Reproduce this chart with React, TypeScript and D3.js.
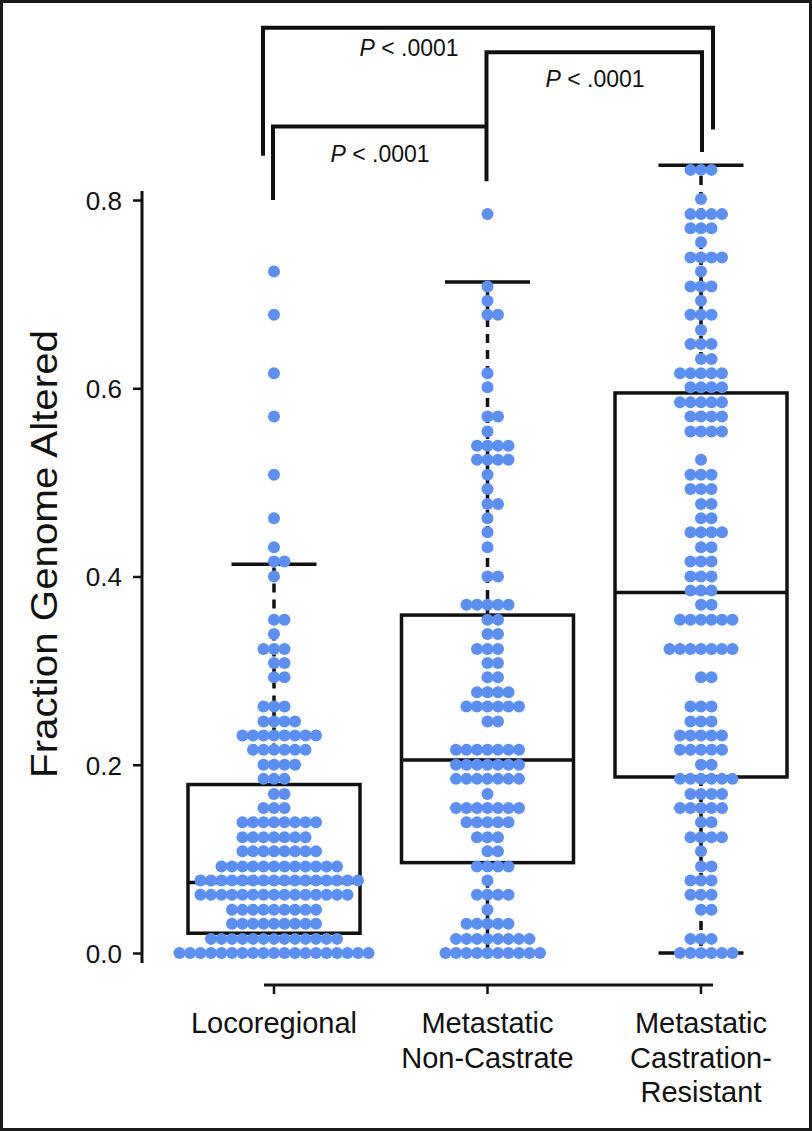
import React, { useRef, useEffect } from "react";
import * as d3 from "d3";

// categories on the x axis (label lines)
const categories = ["Locoregional", "Metastatic Non-Castrate", "Metastatic Castration-Resistant"];
const categoryLines = [["Locoregional"], ["Metastatic", "Non-Castrate"], ["Metastatic", "Castration-", "Resistant"]];

// swarm rows: value and number of samples at that value
const locoValues = [0.724, 0.678, 0.616, 0.57, 0.508, 0.462, 0.431, 0.416, 0.4, 0.354, 0.339, 0.323, 0.308, 0.293, 0.262, 0.246, 0.231, 0.216, 0.2, 0.185, 0.169, 0.154, 0.139, 0.123, 0.108, 0.092, 0.077, 0.062, 0.046, 0.031, 0.015, 0];
const locoCounts = [1, 1, 1, 1, 1, 1, 1, 2, 1, 2, 1, 3, 2, 2, 3, 4, 8, 6, 4, 3, 2, 3, 8, 7, 8, 12, 16, 15, 9, 9, 13, 19];

const nonCastValues = [0.785, 0.708, 0.693, 0.678, 0.616, 0.601, 0.57, 0.554, 0.539, 0.524, 0.508, 0.493, 0.477, 0.462, 0.447, 0.431, 0.4, 0.37, 0.354, 0.339, 0.323, 0.308, 0.293, 0.277, 0.262, 0.246, 0.216, 0.2, 0.185, 0.169, 0.154, 0.139, 0.123, 0.108, 0.092, 0.077, 0.062, 0.046, 0.031, 0.015, 0];
const nonCastCounts = [1, 1, 1, 2, 1, 1, 2, 1, 4, 4, 1, 1, 2, 1, 1, 1, 2, 5, 2, 2, 3, 2, 2, 4, 6, 2, 7, 7, 7, 1, 7, 5, 3, 2, 4, 1, 4, 1, 5, 8, 10];

const crpcValues = [0.832, 0.801, 0.785, 0.77, 0.755, 0.739, 0.724, 0.708, 0.693, 0.678, 0.662, 0.647, 0.631, 0.616, 0.601, 0.585, 0.57, 0.554, 0.524, 0.508, 0.493, 0.477, 0.462, 0.447, 0.431, 0.416, 0.4, 0.385, 0.37, 0.354, 0.323, 0.293, 0.262, 0.246, 0.231, 0.216, 0.2, 0.185, 0.169, 0.154, 0.139, 0.123, 0.108, 0.092, 0.077, 0.062, 0.046, 0.015, 0];
const crpcCounts = [3, 1, 4, 3, 1, 4, 1, 3, 1, 3, 1, 3, 2, 5, 4, 5, 4, 4, 1, 3, 3, 2, 2, 4, 2, 3, 3, 3, 2, 6, 7, 2, 3, 3, 5, 5, 2, 6, 4, 5, 2, 4, 1, 2, 3, 3, 2, 3, 6];

// box plot summaries
const boxQ1 = [0.021, 0.096, 0.187];
const boxMedian = [0.075, 0.205, 0.383];
const boxQ3 = [0.179, 0.359, 0.595];
const whiskerHigh = [0.413, 0.713, 0.837];
const whiskerLow = [0, 0, 0];

const yTicks = [0, 0.2, 0.4, 0.6, 0.8];

// significance brackets, heights in data units
const brackets = [
  { from: 0, to: 2, top: 0.983, leftEnd: 0.847, rightEnd: 0.875, dl: -11, dr: 12, tx: 409, ty: 0.953 },
  { from: 1, to: 2, top: 0.957, leftEnd: 0.82, rightEnd: 0.851, dl: -1, dr: 1, tx: 595, ty: 0.92 },
  { from: 0, to: 1, top: 0.878, leftEnd: 0.8, rightEnd: 0.878, dl: -1, dr: -1, tx: 380, ty: 0.84 },
];
const pLabel = ["P", " < .0001"];

const groups = [
  { values: locoValues, counts: locoCounts },
  { values: nonCastValues, counts: nonCastCounts },
  { values: crpcValues, counts: crpcCounts },
];

const W = 812;
const H = 1131;
const DOT = "#5b8ff2";
const INK = "#111";
const FONT = "'Liberation Sans', Arial, Helvetica, sans-serif";

const App = () => {
  const svgRef = useRef(null);

  useEffect(() => {
    const svg = d3.select(svgRef.current);
    svg.selectAll("*").remove();

    const x = d3.scalePoint().domain(categories).range([274, 701]);
    const y = d3.scaleLinear().domain([0, 0.8]).range([953, 200]);

    const boxW = 172;
    const capW = 85;
    const step = 10.5;
    const r = 6;

    // outer frame
    svg.append("rect")
      .attr("x", 1.5).attr("y", 1.5)
      .attr("width", W - 3).attr("height", H - 3)
      .attr("fill", "none").attr("stroke", "#1a1a1a").attr("stroke-width", 3);

    // y axis
    const yAxis = svg.append("g")
      .attr("transform", "translate(142,0)")
      .call(d3.axisLeft(y).tickValues(yTicks).tickFormat(d3.format(".1f")).tickSize(9).tickPadding(11));
    yAxis.select(".domain").remove();
    yAxis.selectAll("line").attr("stroke", INK).attr("stroke-width", 2.5);
    yAxis.selectAll("text")
      .attr("font-family", FONT).attr("font-size", 26).attr("fill", INK).attr("dy", "0.36em");
    svg.append("line")
      .attr("x1", 142).attr("x2", 142)
      .attr("y1", y(0.8) - 9).attr("y2", y(0) + 10)
      .attr("stroke", INK).attr("stroke-width", 3);

    svg.append("text")
      .attr("transform", `translate(57,${(330 + 778) / 2}) rotate(-90)`)
      .attr("text-anchor", "middle")
      .attr("font-family", FONT).attr("font-size", 36)
      .attr("textLength", 448).attr("lengthAdjust", "spacingAndGlyphs")
      .attr("fill", INK)
      .text("Fraction Genome Altered");

    // x axis
    const xa = svg.append("g");
    xa.append("line")
      .attr("x1", x(categories[0]) - 10).attr("x2", x(categories[2]) + 12)
      .attr("y1", 985).attr("y2", 985)
      .attr("stroke", INK).attr("stroke-width", 3);
    categories.forEach((c, i) => {
      xa.append("line")
        .attr("x1", x(c)).attr("x2", x(c))
        .attr("y1", 985).attr("y2", 994)
        .attr("stroke", INK).attr("stroke-width", 2.5);
      const t = xa.append("text")
        .attr("text-anchor", "middle")
        .attr("font-family", FONT).attr("font-size", 29).attr("fill", INK);
      categoryLines[i].forEach((line, k) => {
        t.append("tspan").attr("x", x(c)).attr("y", 1033 + k * 34.5).text(line);
      });
    });

    // boxes and whiskers
    categories.forEach((c, i) => {
      const cx = x(c);
      const g = svg.append("g").attr("stroke", INK).attr("stroke-width", 3.5).attr("fill", "none");
      g.append("line")
        .attr("x1", cx).attr("x2", cx)
        .attr("y1", y(boxQ3[i])).attr("y2", y(whiskerHigh[i]))
        .attr("stroke-dasharray", "9,7");
      g.append("line")
        .attr("x1", cx).attr("x2", cx)
        .attr("y1", y(boxQ1[i])).attr("y2", y(whiskerLow[i]))
        .attr("stroke-dasharray", "9,7");
      [whiskerHigh[i], whiskerLow[i]].forEach((v) => {
        g.append("line")
          .attr("x1", cx - capW / 2).attr("x2", cx + capW / 2)
          .attr("y1", y(v)).attr("y2", y(v));
      });
      g.append("rect")
        .attr("x", cx - boxW / 2).attr("y", y(boxQ3[i]))
        .attr("width", boxW).attr("height", y(boxQ1[i]) - y(boxQ3[i]));
      g.append("line")
        .attr("x1", cx - boxW / 2).attr("x2", cx + boxW / 2)
        .attr("y1", y(boxMedian[i])).attr("y2", y(boxMedian[i]));
    });

    // swarm dots, spread alternately right and left of the centre
    const dots = [];
    groups.forEach((grp, i) => {
      const cx = x(categories[i]);
      grp.values.forEach((v, k) => {
        for (let n = 0; n < grp.counts[k]; n++) {
          const off = n === 0 ? 0 : n % 2 === 1 ? (n + 1) / 2 : -n / 2;
          dots.push({ x: cx + off * step, y: y(v) });
        }
      });
    });
    svg.append("g")
      .selectAll("circle")
      .data(dots)
      .join("circle")
      .attr("cx", (d) => d.x)
      .attr("cy", (d) => d.y)
      .attr("r", r)
      .attr("fill", DOT);

    // significance brackets
    brackets.forEach((b) => {
      const x1 = x(categories[b.from]) + b.dl;
      const x2 = x(categories[b.to]) + b.dr;
      svg.append("path")
        .attr("d", `M${x1},${y(b.leftEnd)}V${y(b.top)}H${x2}V${y(b.rightEnd)}`)
        .attr("fill", "none").attr("stroke", INK).attr("stroke-width", 4);
      const t = svg.append("text")
        .attr("x", b.tx).attr("y", y(b.ty))
        .attr("text-anchor", "middle")
        .attr("font-family", FONT).attr("font-size", 23).attr("fill", INK);
      t.append("tspan").attr("font-style", "italic").text(pLabel[0]);
      t.append("tspan").text(pLabel[1]);
    });
  }, []);

  return (
    <svg
      ref={svgRef}
      width={W}
      height={H}
      style={{ position: "absolute", left: 0, top: 0, background: "#fff" }}
    />
  );
};

export default App;
